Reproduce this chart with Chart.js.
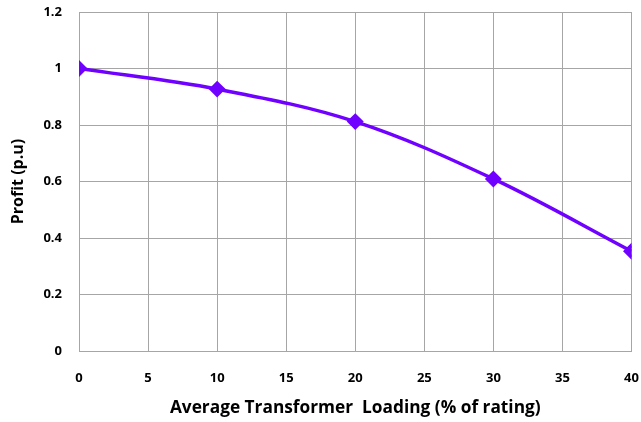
<!DOCTYPE html>
<html>
<head>
<meta charset="utf-8">
<script src="https://cdn.jsdelivr.net/npm/chart.js@4.4.0/dist/chart.umd.min.js"></script>
<style>
  html, body { margin: 0; padding: 0; background: #fff; }
  #wrap { width: 641px; height: 422px; }
</style>
</head>
<body>
<div id="wrap"><canvas id="mycanvas"></canvas></div>
<script>
var loading = [0, 10, 20, 30, 40];
var profit = [1.0, 0.927, 0.812, 0.609, 0.353];

var xTitle = 'Average Transformer  Loading (% of rating)';
var yTitle = 'Profit (p.u)';

var points = [];
for (var i in loading) {
	points.push({ x: loading[i], y: profit[i] });
}

var gridCol = '#a6a6a6';
var fontFam = "'Open Sans', 'Noto Sans', sans-serif";

var ctx = document.getElementById('mycanvas');
var chart = new Chart(ctx, {
	type: 'line',
	data: {
		datasets: [{
			label: 'Profit',
			data: points,
			borderColor: '#7000ff',
			backgroundColor: '#7000ff',
			borderWidth: 3.5,
			pointStyle: 'rectRot',
			pointRadius: 6,
			pointHoverRadius: 6,
			tension: 0.35,
			fill: false
		}]
	},
	options: {
		responsive: true,
		maintainAspectRatio: false,
		animation: false,
		layout: { padding: { top: 12, right: 9, left: 0, bottom: 0 } },
		plugins: { legend: { display: false }, tooltip: { enabled: false } },
		scales: {
			x: {
				type: 'linear',
				min: 0, max: 40,
				ticks: { stepSize: 5, padding: 19, color: '#000', font: { family: fontFam, size: 13, weight: 'bold' } },
				grid: { color: gridCol, drawTicks: false, lineWidth: 1 },
				border: { color: gridCol },
				title: { display: true, text: xTitle, color: '#000', padding: { top: 4 }, font: { family: fontFam, size: 17.3, weight: 'bold' } },
				afterFit: function(s) { s.height = 71; s.paddingLeft = 0; s.paddingRight = 0; }
			},
			y: {
				min: 0, max: 1.2,
				ticks: { stepSize: 0.2, padding: 17, color: '#000', font: { family: fontFam, size: 13, weight: 'bold' },
					callback: function(v) { return Math.round(v * 10) / 10 + ''; } },
				grid: { color: gridCol, drawTicks: false, lineWidth: 1 },
				border: { color: gridCol },
				title: { display: true, text: yTitle, color: '#000', padding: { top: 9, bottom: 4 }, font: { family: fontFam, size: 16, weight: 'bold' } },
				afterFit: function(s) { s.width = 79; s.paddingTop = 0; s.paddingBottom = 0; }
			}
		}
	}
});
</script>
</body>
</html>
